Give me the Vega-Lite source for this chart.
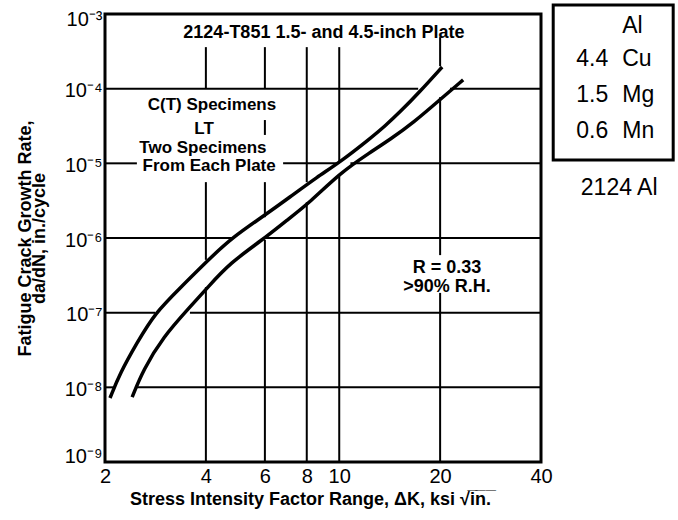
{
  "$schema": "https://vega.github.io/schema/vega-lite/v6.json",
  "width": 436,
  "height": 448,
  "autosize": {"type": "none"},
  "padding": {"left": 105, "top": 14, "right": 137, "bottom": 58},
  "background": "white",
  "config": {
    "view": {"stroke": "black", "strokeWidth": 3},
    "font": "Liberation Sans",
    "axis": {
      "domain": false,
      "ticks": false,
      "grid": false,
      "labelFont": "Liberation Sans",
      "labelColor": "black",
      "labelFlush": false,
      "labelOverlap": false,
      "titleFont": "Liberation Sans",
      "titleFontWeight": "bold",
      "titleColor": "black"
    }
  },
  "datasets": {
    "gridV": [
      {"x": 4, "y1": 3.6e-4, "y2": 1e-4},
      {"x": 4, "y1": 5.6e-6, "y2": 5.1e-7},
      {"x": 4, "y1": 2.2e-7, "y2": 1e-9},
      {"x": 6, "y1": 3.6e-4, "y2": 1e-4},
      {"x": 6, "y1": 3.8e-5, "y2": 2.4e-5},
      {"x": 6, "y1": 5.6e-6, "y2": 1.9e-6},
      {"x": 6, "y1": 9.4e-7, "y2": 1e-9},
      {"x": 8, "y1": 3.6e-4, "y2": 5.6e-6},
      {"x": 8, "y1": 3.0e-6, "y2": 1e-9},
      {"x": 10, "y1": 3.6e-4, "y2": 1.03e-5},
      {"x": 10, "y1": 7.0e-6, "y2": 1e-9},
      {"x": 20, "y1": 4.9e-4, "y2": 2.0e-4},
      {"x": 20, "y1": 7.7e-5, "y2": 5.9e-7},
      {"x": 20, "y1": 1.84e-7, "y2": 1e-9}
    ],
    "gridH": [
      {"y": 1e-4, "x1": 2, "x2": 17.2},
      {"y": 1e-4, "x1": 21.4, "x2": 40},
      {"y": 1e-5, "x1": 2, "x2": 2.49},
      {"y": 1e-5, "x1": 6.8, "x2": 9.9},
      {"y": 1e-5, "x1": 10.8, "x2": 40},
      {"y": 1e-6, "x1": 2, "x2": 4.82},
      {"y": 1e-6, "x1": 5.92, "x2": 40},
      {"y": 1e-7, "x1": 2, "x2": 2.82},
      {"y": 1e-7, "x1": 3.585, "x2": 40},
      {"y": 1e-8, "x1": 2, "x2": 2.13},
      {"y": 1e-8, "x1": 2.47, "x2": 40}
    ],
    "curves": [
      {"curve": "upper", "dK": 2.07, "dadN": 7.2e-9},
      {"curve": "upper", "dK": 2.22, "dadN": 1.56e-8},
      {"curve": "upper", "dK": 2.49, "dadN": 3.93e-8},
      {"curve": "upper", "dK": 2.82, "dadN": 9.9e-8},
      {"curve": "upper", "dK": 3.35, "dadN": 2.14e-7},
      {"curve": "upper", "dK": 4.12, "dadN": 5.4e-7},
      {"curve": "upper", "dK": 4.82, "dadN": 1.03e-6},
      {"curve": "upper", "dK": 5.89, "dadN": 1.91e-6},
      {"curve": "upper", "dK": 7.13, "dadN": 3.54e-6},
      {"curve": "upper", "dK": 8.59, "dadN": 6.56e-6},
      {"curve": "upper", "dK": 10.06, "dadN": 1.04e-5},
      {"curve": "upper", "dK": 12.37, "dadN": 2.15e-5},
      {"curve": "upper", "dK": 13.7, "dadN": 3.16e-5},
      {"curve": "upper", "dK": 15.19, "dadN": 4.88e-5},
      {"curve": "upper", "dK": 17.43, "dadN": 9.2e-5},
      {"curve": "upper", "dK": 20.28, "dadN": 1.95e-4},
      {"curve": "lower", "dK": 2.41, "dadN": 7.4e-9},
      {"curve": "lower", "dK": 2.6, "dadN": 1.71e-8},
      {"curve": "lower", "dK": 2.98, "dadN": 4.72e-8},
      {"curve": "lower", "dK": 3.585, "dadN": 1.19e-7},
      {"curve": "lower", "dK": 4.06, "dadN": 2.21e-7},
      {"curve": "lower", "dK": 4.72, "dadN": 4.62e-7},
      {"curve": "lower", "dK": 5.89, "dadN": 9.4e-7},
      {"curve": "lower", "dK": 6.99, "dadN": 1.74e-6},
      {"curve": "lower", "dK": 8.19, "dadN": 3.03e-6},
      {"curve": "lower", "dK": 10.06, "dadN": 7.43e-6},
      {"curve": "lower", "dK": 12.37, "dadN": 1.4e-5},
      {"curve": "lower", "dK": 14.2, "dadN": 2.1e-5},
      {"curve": "lower", "dK": 16.61, "dadN": 3.47e-5},
      {"curve": "lower", "dK": 20.4, "dadN": 7.73e-5},
      {"curve": "lower", "dK": 23.43, "dadN": 1.31e-4}
    ],
    "plateNotes": [
      {"note": "2124-T851 1.5- and 4.5-inch Plate", "dK": 9.0, "dadN": 5.57e-4},
      {"note": "R = 0.33", "dK": 20.98, "dadN": 3.96e-7},
      {"note": ">90% R.H.", "dK": 20.98, "dadN": 2.21e-7}
    ],
    "specimenNotes": [
      {"note": "C(T) Specimens", "dK": 4.17, "dadN": 6.04e-5},
      {"note": "LT", "dK": 3.95, "dadN": 2.88e-5},
      {"note": "Two Specimens", "dK": 3.92, "dadN": 1.6e-5},
      {"note": "From Each Plate", "dK": 4.09, "dadN": 9.2e-6}
    ],
    "alloy": [
      {"num": "", "sym": "Al", "dadN": 6.9e-4},
      {"num": "4.4", "sym": "Cu", "dadN": 2.49e-4},
      {"num": "1.5", "sym": "Mg", "dadN": 8.2e-5},
      {"num": "0.6", "sym": "Mn", "dadN": 2.71e-5}
    ]
  },
  "layer": [
    {
      "data": {"name": "gridV"},
      "mark": {"type": "rule", "color": "black", "strokeWidth": 2},
      "encoding": {
        "x": {
          "field": "x",
          "type": "quantitative",
          "scale": {"type": "log", "domain": [2, 40], "nice": false},
          "axis": {
            "values": [2, 4, 6, 8, 10, 20, 40],
            "format": "d",
            "labelFontSize": 20,
            "labelPadding": 4,
            "labelBaseline": "top",
            "title": "Stress Intensity Factor Range,  ΔK, ksi √i̅n̅.̅",
            "titleFontSize": 18,
            "titleX": 205,
            "titleY": 37,
            "titleBaseline": "middle",
            "titleAlign": "center"
          }
        },
        "y": {
          "field": "y1",
          "type": "quantitative",
          "scale": {"type": "log", "domain": [1e-9, 1e-3], "nice": false},
          "axis": {
            "values": [1e-9, 1e-8, 1e-7, 1e-6, 1e-5, 1e-4, 1e-3],
            "labelExpr": "'10' + ['⁻⁹','⁻⁸','⁻⁷','⁻⁶','⁻⁵','⁻⁴','⁻³'][round(log(datum.value) / LN10) + 9]",
            "labelFontSize": 20,
            "labelAlign": "right",
            "labelBaseline": "middle",
            "labelPadding": 3,
            "labelOffset": {
              "condition": [
                {"test": "datum.value < 2e-9", "value": -6},
                {"test": "datum.value > 5e-4", "value": 5}
              ],
              "value": 2
            },
            "title": ["Fatigue Crack Growth Rate,", "da/dN, in./cycle"],
            "titleFontSize": 18,
            "titleLineHeight": 14,
            "titleAngle": 270,
            "titleX": -80,
            "titleY": 224,
            "titleBaseline": "middle",
            "titleAlign": "center"
          }
        },
        "y2": {"field": "y2"}
      }
    },
    {
      "data": {"name": "gridH"},
      "mark": {"type": "rule", "color": "black", "strokeWidth": 2},
      "encoding": {
        "y": {"field": "y", "type": "quantitative"},
        "x": {"field": "x1", "type": "quantitative"},
        "x2": {"field": "x2"}
      }
    },
    {
      "data": {"name": "curves"},
      "mark": {"type": "line", "color": "black", "strokeWidth": 3.5, "interpolate": "basis"},
      "encoding": {
        "x": {"field": "dK", "type": "quantitative"},
        "y": {"field": "dadN", "type": "quantitative"},
        "detail": {"field": "curve"}
      }
    },
    {
      "data": {"name": "plateNotes"},
      "mark": {"type": "text", "font": "Liberation Sans", "fontWeight": "bold", "fontSize": 18, "color": "black", "align": "center", "baseline": "middle"},
      "encoding": {
        "x": {"field": "dK", "type": "quantitative"},
        "y": {"field": "dadN", "type": "quantitative"},
        "text": {"field": "note"}
      }
    },
    {
      "data": {"name": "specimenNotes"},
      "mark": {"type": "text", "font": "Liberation Sans", "fontWeight": "bold", "fontSize": 17, "color": "black", "align": "center", "baseline": "middle"},
      "encoding": {
        "x": {"field": "dK", "type": "quantitative"},
        "y": {"field": "dadN", "type": "quantitative"},
        "text": {"field": "note"}
      }
    },
    {
      "data": {"values": [{}]},
      "mark": {"type": "rect", "filled": false, "stroke": "black", "strokeWidth": 3},
      "encoding": {
        "x": {"datum": 43.5, "type": "quantitative"},
        "x2": {"datum": 99.2},
        "y": {"datum": 1.32e-3, "type": "quantitative"},
        "y2": {"datum": 1.11e-5}
      }
    },
    {
      "data": {"name": "alloy"},
      "mark": {"type": "text", "font": "Liberation Sans", "fontSize": 23, "color": "black", "align": "right", "baseline": "middle"},
      "encoding": {
        "x": {"datum": 63.5, "type": "quantitative"},
        "y": {"field": "dadN", "type": "quantitative"},
        "text": {"field": "num"}
      }
    },
    {
      "data": {"name": "alloy"},
      "mark": {"type": "text", "font": "Liberation Sans", "fontSize": 23, "color": "black", "align": "left", "baseline": "middle"},
      "encoding": {
        "x": {"datum": 69.9, "type": "quantitative"},
        "y": {"field": "dadN", "type": "quantitative"},
        "text": {"field": "sym"}
      }
    },
    {
      "data": {"values": [{"caption": "2124 Al"}]},
      "mark": {"type": "text", "font": "Liberation Sans", "fontSize": 23, "color": "black", "align": "center", "baseline": "middle"},
      "encoding": {
        "x": {"datum": 68.45, "type": "quantitative"},
        "y": {"datum": 4.68e-6, "type": "quantitative"},
        "text": {"field": "caption"}
      }
    }
  ]
}
